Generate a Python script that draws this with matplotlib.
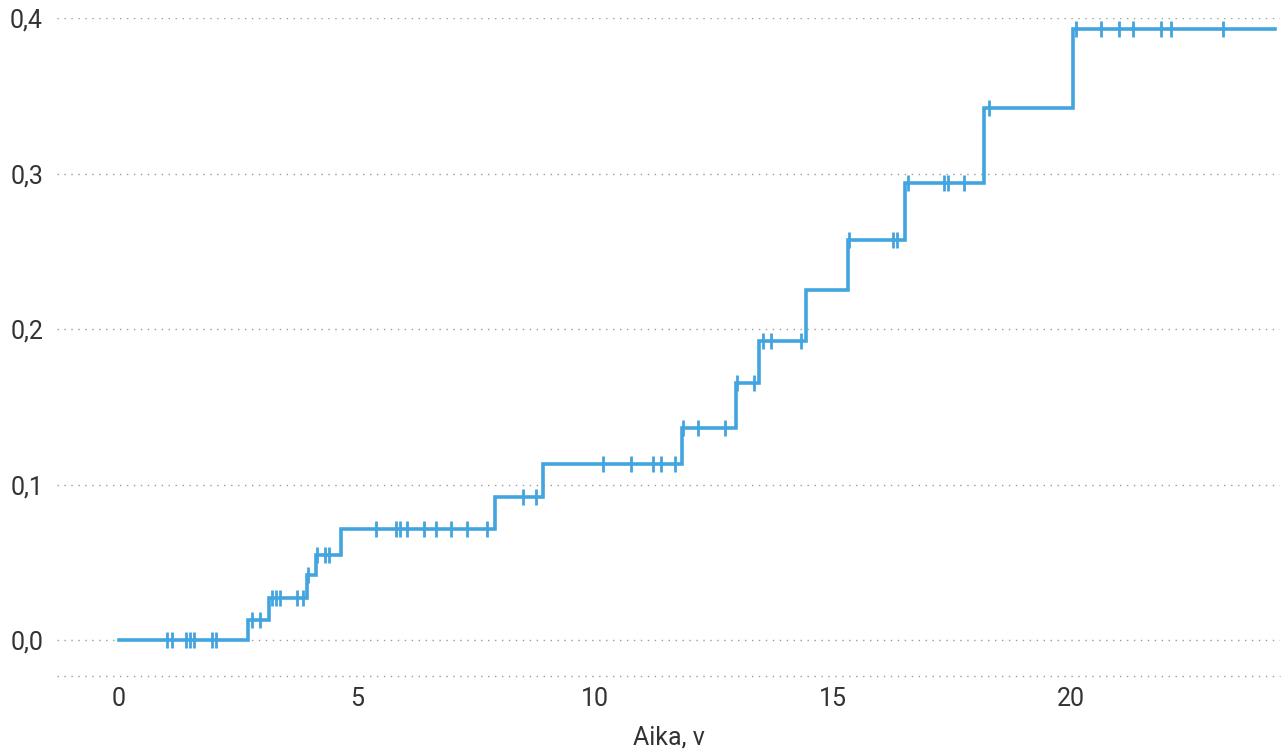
import numpy as np
import matplotlib
matplotlib.use("Agg")
import matplotlib.pyplot as plt
from matplotlib.ticker import FixedLocator

# step curve: event times and cumulative level after each event
event_times = [0, 2.71, 3.15, 3.96, 4.14, 4.66, 7.90, 8.91, 11.82, 12.97,
               13.45, 14.43, 15.32, 16.51, 18.18, 20.03]
levels = [0.0, 0.013, 0.027, 0.042, 0.055, 0.0715, 0.092, 0.113, 0.1365, 0.165,
          0.192, 0.225, 0.257, 0.294, 0.342, 0.393]
end_time = 24.29

# censoring marks
censor_times = [1.01, 1.11, 1.40, 1.49, 1.58, 1.95, 2.04,
                2.79, 2.96,
                3.21, 3.29, 3.38, 3.75, 3.86,
                3.98,
                4.17, 4.33, 4.42,
                5.39, 5.81, 5.90, 6.05, 6.41, 6.66, 6.97, 7.32, 7.74,
                8.49, 8.75,
                10.17, 10.76, 11.22, 11.39, 11.68,
                11.84, 12.17, 12.74,
                12.99, 13.34,
                13.52, 13.69, 14.32,
                15.34, 16.26, 16.35,
                16.58, 17.33, 17.42, 17.75,
                18.28,
                20.10, 20.62, 21.01, 21.29, 21.88, 22.09, 23.20]

x_ticks = [0, 5, 10, 15, 20]
y_ticks = [0.0, 0.1, 0.2, 0.3, 0.4]
y_tick_labels = ["0,0", "0,1", "0,2", "0,3", "0,4"]
x_label = "Aika, v"

BLUE = "#42a5df"
TXT = "#333333"
GRID = "#9a9a9a"

plt.rcParams['font.family'] = ['Roboto', 'DejaVu Sans']

fig = plt.figure(figsize=(12.84, 7.56), dpi=100)
ax = fig.add_axes([0.0444, 0.1058, 0.9526, 0.8704])

xs = list(event_times) + [end_time]
ys = list(levels) + [levels[-1]]
ax.step(xs, ys, where="post", color=BLUE, lw=2.6, zorder=3, solid_joinstyle="miter")

idx = np.searchsorted(event_times, censor_times, side="right") - 1
cy = np.array(levels)[idx]
ax.plot(censor_times, cy, ls="none", marker="|", ms=11, mew=2.0, color=BLUE, zorder=4)

ax.set_xlim(-1.30, 24.39)
ax.set_ylim(-0.0231, 0.4)

for s in ax.spines.values():
    s.set_visible(False)
for y in y_ticks:
    ax.axhline(y, color=GRID, lw=1.0, ls=(0, (1, 4)), zorder=1)
ax.axhline(-0.0231, color=GRID, lw=1.0, ls=(0, (1, 4)), zorder=1, clip_on=False)

ax.xaxis.set_major_locator(FixedLocator(x_ticks))
ax.set_xticklabels([str(t) for t in x_ticks])
ax.yaxis.set_major_locator(FixedLocator(y_ticks))
ax.set_yticklabels(y_tick_labels)
ax.tick_params(axis="both", length=0, labelsize=18, colors=TXT)
ax.tick_params(axis="x", pad=8)
ax.tick_params(axis="y", pad=10)
ax.set_xlabel(x_label, fontsize=18, color=TXT, labelpad=10)

fig.savefig("out.png", dpi=100)
